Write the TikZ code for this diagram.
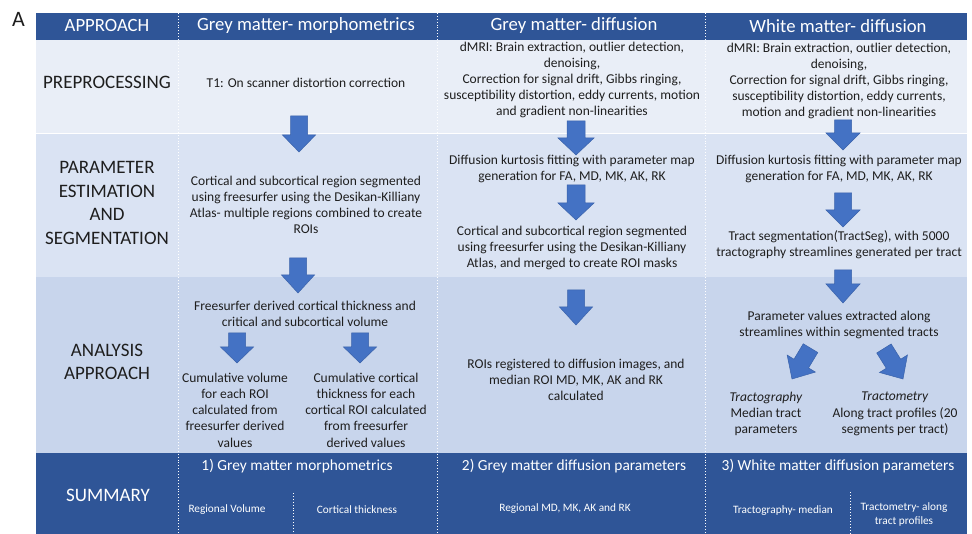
\documentclass[tikz,border=0pt]{standalone}
\usepackage{fontspec}
\setmainfont{Carlito}
\definecolor{dblue}{HTML}{2F5597}
\definecolor{rowa}{HTML}{E9EEF7}
\definecolor{rowb}{HTML}{DAE3F3}
\definecolor{rowc}{HTML}{C8D5EC}
\definecolor{arr}{HTML}{4472C4}
\definecolor{arrb}{HTML}{3A62AA}
\definecolor{txt}{HTML}{1E1E1E}
\newcommand\dnarrow[6]{%
  \filldraw[blockarrow] ({#1-#5},#2) -- ({#1+#5},#2) -- ({#1+#5},#3) -- ({#1+#6},#3)
    -- (#1,#4) -- ({#1-#6},#3) -- ({#1-#5},#3) -- cycle;}
\newcommand\diagarrow[3]{%
  \begin{scope}[shift={(#1,#2)},rotate=#3]
    \filldraw[blockarrow] (-8.5,-36) -- (8.5,-36) -- (8.5,-18) -- (16.5,-18) -- (0,0)
      -- (-16.5,-18) -- (-8.5,-18) -- cycle;
  \end{scope}}
\begin{document}
\begin{tikzpicture}[x=1pt,y=-1pt,
  blockarrow/.style={fill=arr,draw=arrb,line width=0.5pt},
  sepline/.style={draw=white,dotted,line width=0.9pt},
  hdr/.style={font=\fontsize{18.7}{22}\selectfont,text=white,inner sep=0pt},
  lab/.style={font=\fontsize{19}{23.5}\selectfont,text=txt,align=center,inner sep=0pt},
  body/.style={font=\fontsize{13.5}{16.2}\selectfont,text=txt,align=center,inner sep=0pt},
  sumh/.style={font=\fontsize{15.4}{18}\selectfont,text=white,inner sep=0pt},
  sums/.style={font=\fontsize{11.3}{14}\selectfont,text=white,align=center,inner sep=0pt}]
\useasboundingbox (0,0) rectangle (972,534);
\fill[white] (0,0) rectangle (972,534);
% rows
\fill[dblue] (36,13) rectangle (967,40);
\fill[rowa] (36,40) rectangle (967,133);
\fill[rowb] (36,133) rectangle (967,277);
\fill[rowc] (36,277) rectangle (967,453);
\fill[dblue] (36,453) rectangle (967,534);
\draw[white,line width=0.6pt] (36,133) -- (967,133);
% column separators
\draw[sepline] (178,13) -- (178,534);
\draw[sepline] (437,13) -- (437,534);
\draw[sepline] (705,13) -- (705,534);
\draw[sepline] (293,493) -- (293,534);
\draw[sepline] (850,492) -- (850,534);
% label A
\node[font=\fontsize{22}{26}\selectfont,inner sep=0pt,text=txt] (lblA) at (18.5,19) {A};
% header
\node[hdr] (h1) at (107,26) {APPROACH};
\node[hdr] (h2) at (306,26) {Grey matter- morphometrics};
\node[hdr] (h3) at (574,26) {Grey matter- diffusion};
\node[hdr] (h4) at (838,26) {White matter- diffusion};
% row 1
\node[lab] (l1) at (107,82) {PREPROCESSING};
\node[body] (p2) at (306,83) {T1: On scanner distortion correction};
\node[body] (p3) at (572,80) {dMRI: Brain extraction, outlier detection,\\denoising,\\Correction for signal drift, Gibbs ringing,\\susceptibility distortion, eddy currents, motion\\and gradient non-linearities};
\node[body] (p4) at (839,81) {dMRI: Brain extraction, outlier detection,\\denoising,\\Correction for signal drift, Gibbs ringing,\\susceptibility distortion, eddy currents,\\motion and gradient non-linearities};
% row 2
\node[lab] (l2) at (107,203) {PARAMETER\\ESTIMATION\\AND\\SEGMENTATION};
\node[body] (s2) at (306,205) {Cortical and subcortical region segmented\\using freesurfer using the Desikan-Killiany\\Atlas- multiple regions combined to create\\ROIs};
\node[body] (s3a) at (572,169) {Diffusion kurtosis fitting with parameter map\\generation for FA, MD, MK, AK, RK};
\node[body] (s3b) at (572,248) {Cortical and subcortical region segmented\\using freesurfer using the Desikan-Killiany\\Atlas, and merged to create ROI masks};
\node[body] (s4a) at (839,169) {Diffusion kurtosis fitting with parameter map\\generation for FA, MD, MK, AK, RK};
\node[body] (s4b) at (839,245) {Tract segmentation(TractSeg), with 5000\\tractography streamlines generated per tract};
% row 3
\node[lab] (l3) at (107,362) {ANALYSIS\\APPROACH};
\node[body] (a2) at (305,314) {Freesurfer derived cortical thickness and\\critical and subcortical volume};
\node[body] (a2l) at (235,410) {Cumulative volume\\for each ROI\\calculated from\\freesurfer derived\\values};
\node[body] (a2r) at (366,410) {Cumulative cortical\\thickness for each\\cortical ROI calculated\\from freesurfer\\derived values};
\node[body] (a3) at (576,380) {ROIs registered to diffusion images, and\\median ROI MD, MK, AK and RK\\calculated};
\node[body] (a4) at (839,325) {Parameter values extracted along\\streamlines within segmented tracts};
\node[body] (a4l) at (766,414) {\textit{Tractography}\\Median tract\\parameters};
\node[body] (a4r) at (895,414) {\textit{Tractometry}\\Along tract profiles (20\\segments per tract)};
% summary
\node[lab,text=white] (l4) at (108,495) {SUMMARY};
\node[sumh] (m2) at (297,466) {1) Grey matter morphometrics};
\node[sumh] (m3) at (574,466) {2) Grey matter diffusion parameters};
\node[sumh] (m4) at (838,466) {3) White matter diffusion parameters};
\node[sums] (m2l) at (227,510) {Regional Volume};
\node[sums] (m2r) at (357,510) {Cortical thickness};
\node[sums] (m3a) at (565,509) {Regional MD, MK, AK and RK};
\node[sums] (m4l) at (783,511) {Tractography- median};
\node[sums] (m4r) at (904,514) {Tractometry- along\\tract profiles};
% arrows
\dnarrow{299}{116}{135}{152}{8.5}{16.5}
\dnarrow{298}{258}{275}{293}{8.5}{16.5}
\dnarrow{237}{333}{347}{363}{8.5}{16.5}
\dnarrow{360}{333}{347}{363}{8.5}{16.5}
\dnarrow{576}{121}{138}{155}{9}{18}
\dnarrow{576}{185}{203}{220}{9}{18}
\dnarrow{576}{290}{307}{325}{8.5}{16.5}
\dnarrow{843}{120}{133}{150}{8.5}{17}
\dnarrow{843}{193}{210}{227}{8.5}{17}
\dnarrow{843}{270}{284}{303}{8.5}{17}
\diagarrow{792}{379}{-31}
\diagarrow{903}{379}{32}
\end{tikzpicture}
\end{document}
